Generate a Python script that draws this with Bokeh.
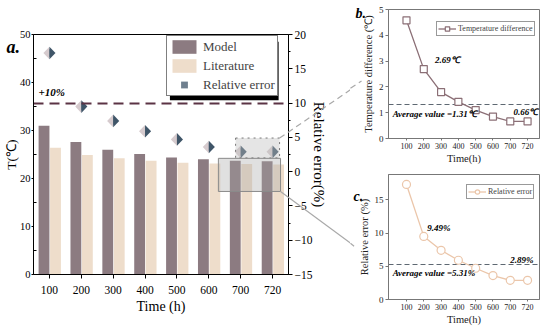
import math
from bokeh.plotting import figure
from bokeh.models import (Range1d, LinearAxis, FixedTicker, Legend, LegendItem, Label, Title,
                          BoxAnnotation, ColumnDataSource)
from bokeh.layouts import row, column
from bokeh.transform import dodge
from bokeh.core.properties import value
from bokeh.embed import file_html
from bokeh.resources import INLINE

# ---------------- data ----------------
times = ["100", "200", "300", "400", "500", "600", "700", "720"]
model_t = [31.0, 27.6, 26.0, 25.1, 24.4, 24.0, 23.7, 23.6]
literature_t = [26.4, 24.9, 24.2, 23.7, 23.3, 23.15, 23.04, 22.94]
relative_error = [17.3, 9.49, 7.4, 5.9, 4.7, 3.6, 2.89, 2.89]
temp_difference = [4.58, 2.69, 1.8, 1.42, 1.1, 0.85, 0.66, 0.66]
avg_temp_diff = 1.31
avg_rel_err = 5.31
error_limit = 10

t_ticks = [0, 10, 20, 30, 40, 50]
err_ticks = [-15, -10, -5, 0, 5, 10, 15, 20]
td_ticks = [0, 1, 2, 3, 4, 5]
re_ticks = [0, 5, 10, 15]

# ---------------- style ----------------
SERIF = "Liberation Serif"
MODEL_C = "#8C7B81"
LIT_C = "#EEDDCB"
DIA_LIGHT = "#D6CBCE"
DIA_DARK = "#3F5568"
LIMIT_C = "#5B3344"
TD_C = "#8B6F76"
RE_C = "#EBC6AA"
GREY = "#A9A9A9"

pos = list(range(1, len(times) + 1))
xlabels = {k: t for k, t in zip(pos, times)}
T_RANGE = (0, 50)
E_RANGE = (-15, 20)


def err_to_t(v):
    return (v - E_RANGE[0]) / (E_RANGE[1] - E_RANGE[0]) * (T_RANGE[1] - T_RANGE[0]) + T_RANGE[0]


def style_axis(ax, tick_px, label_px, color="black", tick_color="black"):
    ax.axis_line_color = color
    ax.major_tick_line_color = color
    ax.minor_tick_line_color = color
    ax.major_label_text_font = SERIF
    ax.major_label_text_font_size = tick_px
    ax.major_label_text_color = tick_color
    ax.axis_label_text_font = SERIF
    ax.axis_label_text_font_size = label_px
    ax.axis_label_text_font_style = "normal"
    ax.axis_label_text_color = tick_color


# ---------------- main chart (a) ----------------
p = figure(width=350, height=320, x_range=Range1d(0.5, 8.5), y_range=Range1d(*T_RANGE),
           output_backend="svg", toolbar_location=None,
           min_border_left=32, min_border_right=62, min_border_top=34, min_border_bottom=46)
p.extra_y_ranges = {"err": Range1d(*E_RANGE)}
p.grid.visible = False
p.outline_line_color = "black"
p.outline_line_alpha = 1

src = ColumnDataSource(dict(x=pos, model=model_t, lit=literature_t))
r_model = p.vbar(x=dodge("x", -0.17, range=p.x_range), top="model", width=0.34, source=src,
                 fill_color=MODEL_C, line_color=None)
r_lit = p.vbar(x=dodge("x", 0.19, range=p.x_range), top="lit", width=0.34, source=src,
               fill_color=LIT_C, line_color=None)

hw, hh = 0.19, 0.92
left_xs = [[x - hw, x, x] for x in pos]
left_ys = [[e, e + hh, e - hh] for e in relative_error]
right_xs = [[x, x + hw, x] for x in pos]
right_ys = [[e + hh, e, e - hh] for e in relative_error]
# small rotated square underneath (fully covered), used for the legend swatch
r_dia = p.scatter(pos, relative_error, y_range_name="err", marker="square", angle=math.pi / 4,
                  size=6, fill_color="#6F7F8E", line_color=None)
p.patches(left_xs, left_ys, y_range_name="err", fill_color=DIA_LIGHT, line_color=None)
p.patches(right_xs, right_ys, y_range_name="err", fill_color=DIA_DARK, line_color=None)

p.hspan(y=[error_limit], y_range_name="err", line_color=LIMIT_C, line_width=2, line_dash="10 6")
p.add_layout(Label(x=0.66, y=err_to_t(error_limit) + 1.1, text="+10%", text_font=SERIF,
                   text_font_style="bold italic", text_font_size="11px", text_color="black"))

# zoom boxes
p.quad(left=[6.84], right=[8.22], bottom=[2.0], top=[4.9], y_range_name="err",
       fill_color="#BDBDBD", fill_alpha=0.4, line_color="#777777", line_dash="dotted", line_width=1)
p.quad(left=[6.30], right=[8.25], bottom=[17.3], top=[24.2],
       fill_color="#A5A5A5", fill_alpha=0.35, line_color="#8A8A8A", line_width=1)

# connector lines (overlay level so they may leave the frame)
p.segment(x0=[8.22], y0=[err_to_t(4.9)], x1=[10.47], y1=[38.6], line_color=GREY,
          line_width=1.2, line_dash="6 4", level="overlay")
p.segment(x0=[8.25], y0=[17.3], x1=[10.47], y1=[6.4], line_color=GREY, line_width=1.2,
          level="overlay")

p.text(x=[-0.35], y=[47.5], text=["a."], text_font=value(SERIF), text_font_style="bold italic",
       text_font_size="18px", text_color="black", text_baseline="alphabetic", level="overlay")

# axes
p.xaxis.ticker = FixedTicker(ticks=pos)
p.xaxis.major_label_overrides = xlabels
p.xaxis.axis_label = "Time (h)"
p.xaxis.major_tick_out = 4
p.xaxis.major_tick_in = 0
p.xaxis.minor_tick_out = 0
p.xaxis.major_label_standoff = 7
p.xaxis.axis_label_standoff = 2
style_axis(p.xaxis[0], "11.5px", "14px")

p.yaxis.ticker = FixedTicker(ticks=t_ticks, minor_ticks=[5, 15, 25, 35, 45])
p.yaxis.axis_label = "T(℃)"
p.yaxis.major_tick_out = 2
p.yaxis.major_tick_in = 0
p.yaxis.minor_tick_in = 3
p.yaxis.minor_tick_out = 0
p.yaxis.major_label_standoff = 1
p.yaxis.axis_label_standoff = -2
style_axis(p.yaxis[0], "10.5px", "13.5px")

ax_r = LinearAxis(y_range_name="err", axis_label="Relative error(%)",
                  ticker=FixedTicker(ticks=err_ticks, minor_ticks=[-12.5, -7.5, -2.5, 2.5, 7.5, 12.5, 17.5]))
ax_r.major_tick_out = 4
ax_r.major_tick_in = 0
ax_r.minor_tick_out = 2
ax_r.minor_tick_in = 0
ax_r.major_label_standoff = 2
ax_r.axis_label_standoff = -4
style_axis(ax_r, "11.5px", "15px")
p.add_layout(ax_r, "right")

shadow = BoxAnnotation(left=4.78, right=8.19, top=48.5, bottom=36.3, fill_color="black",
                       fill_alpha=1, line_color=None)
p.add_layout(shadow)
leg = Legend(items=[LegendItem(label="Model", renderers=[r_model]),
                    LegendItem(label="Literature", renderers=[r_lit]),
                    LegendItem(label="Relative error", renderers=[r_dia])],
             location=(133, 178), border_line_color="black", border_line_width=1,
             background_fill_color="white", background_fill_alpha=1,
             label_text_font=SERIF, label_text_font_size="13px",
             glyph_width=30, glyph_height=17, label_height=17, spacing=2, padding=2,
             margin=0, label_standoff=4)
p.add_layout(leg)


# ---------------- sub charts ----------------
def sub_fig(y_end, height, top_border, bottom_border, tag, tag_offset, tag_standoff):
    f = figure(width=200, height=height, x_range=Range1d(-0.04, 8.69),
               y_range=Range1d(0, y_end), output_backend="svg", toolbar_location=None,
               min_border_left=38, min_border_right=11, min_border_top=top_border,
               min_border_bottom=bottom_border)
    f.grid.visible = False
    f.outline_line_color = "#777777"
    f.outline_line_alpha = 1
    f.xaxis.ticker = FixedTicker(ticks=pos)
    f.xaxis.major_label_overrides = xlabels
    f.xaxis.axis_label = "Time(h)"
    f.xaxis.major_tick_out = 2
    f.xaxis.major_tick_in = 0
    f.xaxis.major_label_standoff = 2
    f.xaxis.axis_label_standoff = 1
    f.yaxis.major_tick_out = 3
    f.yaxis.major_tick_in = 0
    f.yaxis.minor_tick_out = 0
    f.yaxis.minor_tick_in = 0
    f.yaxis.major_label_standoff = 2
    f.yaxis.axis_label_standoff = 2
    style_axis(f.xaxis[0], "8px", "10.5px", color="#777777", tick_color="#222222")
    style_axis(f.yaxis[0], "9px", "10.5px", color="#777777", tick_color="#222222")
    f.add_layout(Title(text=tag, align="left", offset=tag_offset, standoff=tag_standoff,
                       vertical_align="bottom", text_font=SERIF, text_font_style="bold italic",
                       text_font_size="14px", text_color="black"), "above")
    return f


def note(f, x, y, text, align="left", size="9px"):
    f.add_layout(Label(x=x, y=y, text=text, text_font=SERIF, text_font_style="bold italic",
                       text_font_size=size, text_align=align, text_baseline="middle",
                       text_color="black"))


def arrow_piece(f, x0, y0, x1, y1, ang, dash):
    f.segment(x0=[x0], y0=[y0], x1=[x1], y1=[y1], line_color=GREY, line_width=1.2,
              line_dash=dash, level="overlay")
    f.scatter(x=[x1], y=[y1], marker="triangle", angle=ang, size=7, fill_color=GREY,
              line_color=GREY, level="overlay")


b = sub_fig(5, 166, 9, 26, "b.", -33, -22)
b.yaxis.ticker = FixedTicker(ticks=td_ticks)
b.yaxis.axis_label = "Temperature difference (℃)"
b.hspan(y=[avg_temp_diff], line_color="#5E6872", line_width=1, line_dash="5 3")
bl = b.line(pos, temp_difference, line_color=TD_C, line_width=1.3)
bs = b.scatter(pos, temp_difference, marker="square", size=7, fill_color="white",
               line_color=TD_C, line_width=1.2)
note(b, pos[1] + 0.65, temp_difference[1] + 0.34, "2.69℃")
note(b, 0.2, avg_temp_diff - 0.35, "Average value =1.31℃")
note(b, pos[-1] + 0.62, temp_difference[-1] + 0.38, "0.66℃", align="right")
b.add_layout(Legend(items=[LegendItem(label="Temperature difference", renderers=[bl, bs])],
                    location=(48, 102), border_line_color="#333333", border_line_width=1,
                    label_text_font=SERIF, label_text_font_size="8px", glyph_width=18,
                    glyph_height=11, label_height=11, padding=1, margin=0, label_standoff=2))
arrow_piece(b, -2.24, 1.95, -1.6, 2.23, -0.98, "6 4")

c = sub_fig(18.8, 161, 8, 27, "c.", -35, -58)
c.yaxis.ticker = FixedTicker(ticks=re_ticks)
c.yaxis.axis_label = "Relative error (%)"
c.hspan(y=[avg_rel_err], line_color="#5E6872", line_width=1, line_dash="5 3")
cl = c.line(pos, relative_error, line_color=RE_C, line_width=1.3)
cs = c.scatter(pos, relative_error, marker="circle", size=8, fill_color="white",
               line_color=RE_C, line_width=1.2)
note(c, pos[1] + 0.2, relative_error[1] + 1.3, "9.49%")
note(c, 0.2, avg_rel_err - 1.3, "Average value =5.31%")
note(c, pos[-1] + 0.35, relative_error[-1] + 3.07, "2.89%", align="right")
c.add_layout(Legend(items=[LegendItem(label="Relative error", renderers=[cl, cs])],
                    location=(78, 100), border_line_color="#333333", border_line_width=1,
                    label_text_font=SERIF, label_text_font_size="8px", glyph_width=18,
                    glyph_height=11, label_height=11, padding=1, margin=0, label_standoff=2))
arrow_piece(c, -2.24, 8.46, -2.03, 8.02, -2.21, "solid")

layout = row(p, column(b, c))
open("out.html", "w").write(file_html(layout, INLINE))
